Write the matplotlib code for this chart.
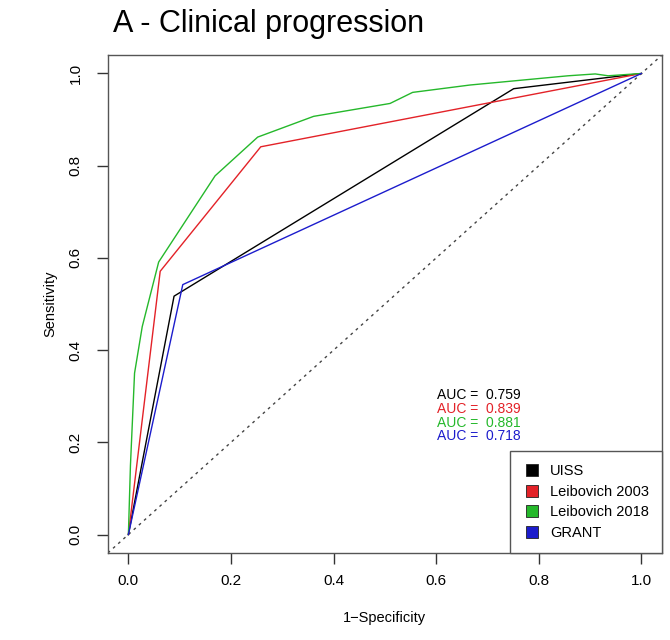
import matplotlib
matplotlib.use("Agg")
from matplotlib import pyplot as plt
from matplotlib.lines import Line2D

plt.rcParams["font.family"] = ["Liberation Sans", "DejaVu Sans"]

# ROC curves (1-specificity, sensitivity)
uiss_x = [0.0, 0.089, 0.751, 1.0]
uiss_y = [0.0, 0.517, 0.967, 1.0]

leib03_x = [0.0, 0.062, 0.258, 1.0]
leib03_y = [0.0, 0.571, 0.841, 1.0]

leib18_x = [0.0, 0.004, 0.012, 0.027, 0.059, 0.169, 0.252, 0.361, 0.510, 0.554, 0.666, 0.857, 0.910, 0.935, 1.0]
leib18_y = [0.0, 0.150, 0.350, 0.451, 0.591, 0.778, 0.862, 0.907, 0.935, 0.959, 0.975, 0.995, 0.999, 0.995, 1.0]

grant_x = [0.0, 0.106, 1.0]
grant_y = [0.0, 0.542, 1.0]

names = ["UISS", "Leibovich 2003", "Leibovich 2018", "GRANT"]
aucs = ["0.759", "0.839", "0.881", "0.718"]
colors = ["#000000", "#E32228", "#25B82B", "#1C1CCC"]

fig = plt.figure(figsize=(6.7, 6.4), dpi=100)
ax = fig.add_axes([0.161, 0.136, 0.827, 0.778])

# chance line
ax.plot([-0.04, 1.04], [-0.04, 1.04], linestyle=(0, (2, 3)), color="#444444", lw=1)

curves = [(uiss_x, uiss_y), (leib03_x, leib03_y), (leib18_x, leib18_y), (grant_x, grant_y)]
for (x, y), c in zip(curves, colors):
    ax.plot(x, y, color=c, lw=1)

ax.set_xlim(-0.04, 1.04)
ax.set_ylim(-0.04, 1.04)
ticks = [0.0, 0.2, 0.4, 0.6, 0.8, 1.0]
ax.set_xticks(ticks)
ax.set_yticks(ticks)
ax.set_xticklabels([f"{t:.1f}" for t in ticks], fontsize=11)
ax.set_yticklabels([f"{t:.1f}" for t in ticks], fontsize=11, rotation=90, va="center")
ax.tick_params(axis="x", length=8, width=1, color="#333333", pad=7)
ax.tick_params(axis="y", length=8, width=1, color="#333333", pad=10)
for s in ax.spines.values():
    s.set_color("#555555")
    s.set_linewidth(1)

ax.set_xlabel("1\u2212Specificity", fontsize=10.5, labelpad=17)
ax.set_ylabel("Sensitivity", fontsize=10.5, labelpad=8)
fig.text(0.168, 0.962, "A - Clinical progression", fontsize=22, va="center", ha="left")

# AUC text block
auc_y = [0.302, 0.272, 0.242, 0.213]
for a, yy, c in zip(aucs, auc_y, colors):
    ax.text(0.602, yy, f"AUC =  {a}", color=c, fontsize=10, va="center", ha="left")

handles = [Line2D([], [], marker="s", linestyle="none", markersize=9,
                  markerfacecolor=c, markeredgecolor="#222222", markeredgewidth=0.6)
           for c in colors]
leg = ax.legend(handles, names, loc="lower right", borderaxespad=0, fontsize=10.5,
                fancybox=False, framealpha=1, edgecolor="#555555",
                handletextpad=0.6, labelspacing=0.45, borderpad=0.9, handlelength=1.2)
leg.get_frame().set_linewidth(1)

fig.savefig("out.png", dpi=100)
